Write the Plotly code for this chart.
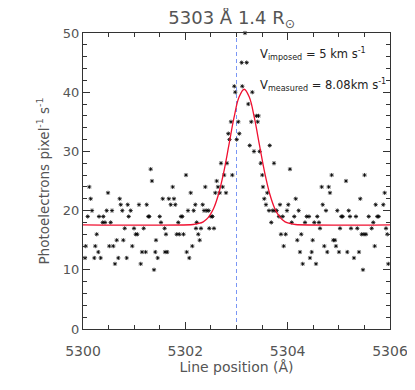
import plotly.graph_objects as go

# observed counts (Angstrom, photoelectrons pixel^-1 s^-1)
wave = [
    5300.039, 5300.053, 5300.092, 5300.123, 5300.150, 5300.176, 5300.221, 5300.240,
    5300.268, 5300.299, 5300.313, 5300.346, 5300.385, 5300.397, 5300.430, 5300.463,
    5300.489, 5300.514, 5300.541, 5300.567, 5300.592, 5300.625, 5300.659, 5300.690,
    5300.717, 5300.737, 5300.768, 5300.788, 5300.815, 5300.854, 5300.874, 5300.893,
    5300.932, 5300.963, 5300.997, 5301.030, 5301.061, 5301.094, 5301.128, 5301.153,
    5301.186, 5301.225, 5301.245, 5301.276, 5301.296, 5301.323, 5301.348, 5301.388,
    5301.413, 5301.427, 5301.460, 5301.499, 5301.524, 5301.558, 5301.595, 5301.603,
    5301.622, 5301.647, 5301.677, 5301.714, 5301.753, 5301.778, 5301.804, 5301.831,
    5301.862, 5301.882, 5301.915, 5301.941, 5301.964, 5302.013, 5302.027, 5302.052,
    5302.077, 5302.105, 5302.136, 5302.163, 5302.195, 5302.208, 5302.222, 5302.253,
    5302.281, 5302.306, 5302.339, 5302.365, 5302.390, 5302.417, 5302.457, 5302.468,
    5302.501, 5302.531, 5302.560, 5302.586, 5302.613, 5302.638, 5302.672, 5302.697,
    5302.730, 5302.759, 5302.795, 5302.814, 5302.840, 5302.863, 5302.892, 5302.918,
    5302.957, 5302.976, 5303.004, 5303.035, 5303.055, 5303.101, 5303.113, 5303.166,
    5303.199, 5303.230, 5303.258, 5303.289, 5303.309, 5303.342, 5303.387, 5303.414,
    5303.430, 5303.453, 5303.473, 5303.504, 5303.518, 5303.543, 5303.576, 5303.602,
    5303.635, 5303.649, 5303.680, 5303.707, 5303.733, 5303.752, 5303.785, 5303.830,
    5303.850, 5303.869, 5303.903, 5303.922, 5303.961, 5303.987, 5304.012, 5304.045,
    5304.079, 5304.129, 5304.157, 5304.188, 5304.215, 5304.241, 5304.266, 5304.294,
    5304.339, 5304.372, 5304.417, 5304.436, 5304.470, 5304.489, 5304.520, 5304.554,
    5304.579, 5304.612, 5304.632, 5304.665, 5304.685, 5304.716, 5304.749, 5304.774,
    5304.802, 5304.827, 5304.860, 5304.892, 5304.925, 5304.944, 5304.970, 5305.003,
    5305.023, 5305.048, 5305.075, 5305.140, 5305.165, 5305.193, 5305.218, 5305.238,
    5305.296, 5305.335, 5305.361, 5305.394, 5305.419, 5305.447, 5305.472, 5305.492,
    5305.503, 5305.531, 5305.584, 5305.642, 5305.673, 5305.701, 5305.720, 5305.751,
    5305.779, 5305.869, 5305.896, 5305.922, 5305.947, 5305.967,
]
counts = [
    12, 14, 19, 24, 22, 20, 12, 14,
    16, 13, 19, 12, 18, 19, 18, 20,
    23, 14, 18, 20, 14, 11, 15, 12,
    22, 21, 20, 15, 17, 12, 21, 19,
    20, 14, 17, 16, 16, 21, 11, 13,
    17, 13, 21, 19, 19, 27, 25, 10,
    13, 15, 12, 19, 18, 22, 17, 13,
    16, 13, 22, 21, 24, 22, 21, 16,
    18, 16, 19, 19, 16, 26, 13, 20,
    12, 23, 14, 20, 21, 17, 18, 16,
    15, 17, 21, 20, 24, 20, 20, 17,
    19, 19, 17, 23, 25, 24, 23, 28,
    24, 26, 23, 28, 33, 32, 35, 26,
    41, 40, 32, 35, 33, 45, 41, 50,
    45, 38, 31, 35, 40, 30, 36, 35,
    36, 30, 28, 26, 24, 22, 21, 23,
    20, 31, 18, 20, 28, 20, 20, 19,
    21, 16, 19, 14, 16, 20, 21, 27,
    18, 19, 22, 15, 20, 13, 16, 11,
    18, 19, 19, 12, 13, 15, 18, 11,
    19, 18, 17, 24, 21, 14, 20, 13,
    24, 23, 26, 15, 15, 14, 20, 13,
    17, 19, 19, 25, 13, 20, 19, 17,
    12, 19, 17, 13, 22, 16, 10, 16,
    26, 16, 19, 17, 18, 14, 21, 19,
    19, 21, 23, 17, 16, 11,
]

# fitted profile
fit_wave = [5300.0, 5302.15, 5302.25, 5302.35, 5302.45, 5302.55, 5302.65, 5302.75,
            5302.85, 5302.95, 5303.05, 5303.15, 5303.25, 5303.35, 5303.45, 5303.55,
            5303.65, 5303.75, 5303.85, 5303.95, 5304.05, 5304.15, 5306.0]
fit_counts = [17.6, 17.65, 17.8, 18.1, 18.85, 20.3, 22.8, 26.45,
              31.0, 35.65, 39.17, 40.5, 39.17, 35.65, 31.0, 26.45,
              22.8, 20.3, 18.85, 18.1, 17.8, 17.65, 17.6]

rest_wave = 5303.0
FONT = "DejaVu Sans"
GREY = "#555555"
AXIS = "#333333"

fig = go.Figure()
fig.add_trace(go.Scatter(
    x=[rest_wave, rest_wave], y=[0, 50], mode="lines",
    line=dict(color="#7a96f5", width=1, dash="4px,3px"), hoverinfo="skip",
))
fig.add_trace(go.Scatter(
    x=wave, y=counts, mode="markers", cliponaxis=False,
    marker=dict(symbol="asterisk-open", size=3.5, color="black",
                line=dict(color="#111111", width=0.8)),
))
fig.add_trace(go.Scatter(
    x=fit_wave, y=fit_counts, mode="lines", line_shape="spline",
    line=dict(color="#f01030", width=1.3),
))

axis_common = dict(
    showgrid=False, zeroline=False, showline=True, linecolor=AXIS,
    linewidth=1, mirror="allticks", ticks="inside", tickcolor=AXIS,
    automargin=False,
)
fig.update_xaxes(
    range=[5300, 5306], tickvals=[5300, 5302, 5304, 5306], ticklen=7,
    ticklabelstandoff=9,
    tickfont=dict(family=FONT, size=14, color=GREY),
    minor=dict(dtick=0.5, ticks="inside", ticklen=4, tickcolor=AXIS),
    title=dict(text="Line position (Å)", font=dict(family=FONT, size=14, color=GREY),
               standoff=4),
    **axis_common,
)
fig.update_yaxes(
    range=[0, 50], dtick=10, ticklen=7,
    tickfont=dict(family=FONT, size=13, color=GREY),
    minor=dict(dtick=2, ticks="inside", ticklen=4, tickcolor=AXIS),
    title=dict(text="Photoelectrons pixel<sup>-1</sup> s<sup>-1</sup>",
               font=dict(family=FONT, size=13.5, color=GREY), standoff=10),
    **axis_common,
)

ann_font = dict(family=FONT, size=11.5, color="#222222")
fig.add_annotation(x=5303.42, y=46.5, xanchor="left", yanchor="middle", showarrow=False,
                   text="V<sub>imposed</sub> = 5 km s<sup>-1</sup>", font=ann_font)
fig.add_annotation(x=5303.42, y=41.2, xanchor="left", yanchor="middle", showarrow=False,
                   text="V<sub>measured</sub> = 8.08km s<sup>-1</sup>", font=ann_font)

# the page body adds an 8px margin, so the figure is 8px smaller than the window
fig.update_layout(
    width=407, height=382, showlegend=False,
    margin=dict(l=75, r=25, t=25, b=61),
    paper_bgcolor="white", plot_bgcolor="white",
    title=dict(text="5303 Å 1.4 R<sub>⊙</sub>", x=0.55, xanchor="center",
               y=0.975, yanchor="middle",
               font=dict(family=FONT, size=18, color=GREY)),
)

fig.write_html("out.html")
